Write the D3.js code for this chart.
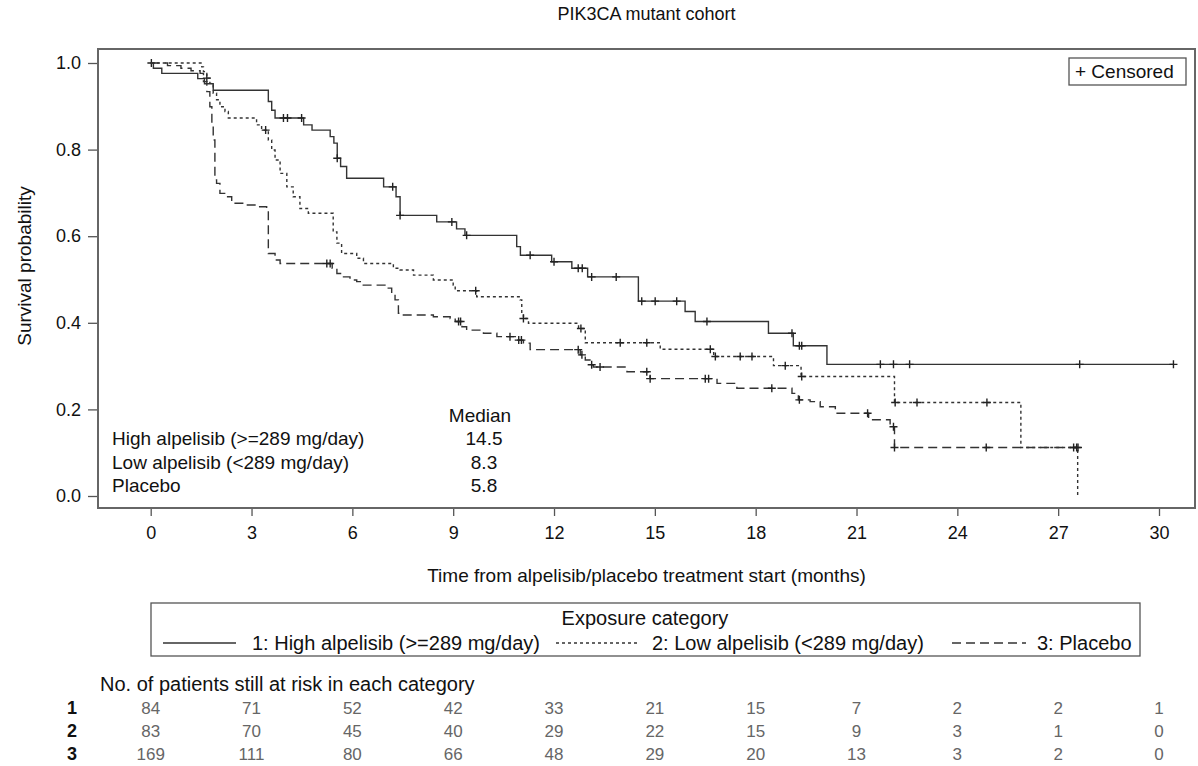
<!DOCTYPE html>
<html>
<head>
<meta charset="utf-8">
<script src="https://cdn.jsdelivr.net/npm/d3@7"></script>
<style>
  body { margin: 0; background: #fff; }
  svg text { font-family: "Liberation Sans", Arial, sans-serif; fill: #111; }
</style>
</head>
<body>
<div id="chart"></div>
<script>
// Kaplan-Meier steps (months, survival)
const highT = [0, 0.08, 0.33, 1.4, 1.6, 1.86, 3.5, 3.6, 3.7, 4.55, 4.8, 5.34, 5.45, 5.55, 5.65, 5.83, 6.93, 7.3, 7.42, 8.51, 9.1, 9.35, 10.89, 11.0, 11.93, 12.53, 13.0, 14.51, 15.9, 16.2, 18.38, 19.12, 20.12, 30.43];
const highS = [1.0, 0.988, 0.976, 0.964, 0.952, 0.937, 0.911, 0.891, 0.873, 0.857, 0.845, 0.83, 0.815, 0.78, 0.761, 0.734, 0.714, 0.691, 0.648, 0.633, 0.617, 0.602, 0.576, 0.556, 0.541, 0.526, 0.506, 0.45, 0.426, 0.403, 0.376, 0.347, 0.304, 0.304];
const highCens = [0.02, 3.95, 4.07, 4.49, 5.55, 7.2, 7.42, 8.96, 9.4, 11.29, 12.0, 12.72, 12.84, 13.12, 13.85, 14.61, 15.01, 15.65, 16.55, 19.08, 19.3, 19.37, 21.71, 22.1, 22.58, 27.64, 30.43];

const lowT = [0, 1.52, 1.57, 1.67, 1.76, 1.86, 1.96, 2.06, 2.21, 2.31, 3.15, 3.3, 3.5, 3.6, 3.7, 3.85, 4.05, 4.24, 4.44, 4.69, 5.43, 5.54, 5.68, 6.13, 6.33, 7.22, 7.42, 7.82, 8.41, 9.0, 9.06, 9.7, 10.99, 11.04, 11.09, 11.24, 12.73, 12.93, 15.16, 16.75, 18.53, 19.35, 22.13, 25.89, 27.58];
const lowS = [1.0, 0.991, 0.98, 0.965, 0.953, 0.93, 0.915, 0.899, 0.888, 0.873, 0.857, 0.845, 0.822, 0.799, 0.776, 0.745, 0.714, 0.691, 0.664, 0.653, 0.61, 0.584, 0.56, 0.549, 0.537, 0.526, 0.522, 0.51, 0.499, 0.487, 0.474, 0.46, 0.453, 0.422, 0.41, 0.399, 0.387, 0.354, 0.339, 0.322, 0.301, 0.276, 0.216, 0.112, 0];
const lowCens = [1.67, 3.42, 9.67, 11.09, 12.8, 13.97, 14.76, 16.65, 16.8, 17.54, 17.89, 18.88, 19.37, 22.15, 22.8, 24.88, 27.55];

const placT = [0, 0.5, 0.9, 1.2, 1.47, 1.57, 1.67, 1.76, 1.82, 1.86, 1.91, 1.96, 2.06, 2.26, 2.41, 2.85, 3.15, 3.45, 3.5, 3.7, 3.85, 5.4, 5.54, 5.68, 5.93, 6.13, 6.28, 6.97, 7.17, 7.27, 7.37, 7.42, 8.41, 8.91, 9.06, 9.26, 9.4, 9.9, 10.3, 10.94, 11.09, 11.29, 12.78, 12.93, 13.07, 13.17, 14.17, 14.86, 16.85, 17.44, 19.08, 19.27, 19.62, 19.92, 20.37, 21.36, 22.0, 22.13, 27.66];
const placS = [1.0, 0.994, 0.988, 0.982, 0.976, 0.957, 0.934, 0.899, 0.861, 0.822, 0.73, 0.722, 0.699, 0.691, 0.676, 0.672, 0.668, 0.66, 0.56, 0.545, 0.537, 0.526, 0.514, 0.506, 0.499, 0.495, 0.487, 0.48, 0.468, 0.453, 0.422, 0.418, 0.414, 0.41, 0.403, 0.391, 0.383, 0.376, 0.368, 0.36, 0.353, 0.338, 0.326, 0.314, 0.303, 0.298, 0.287, 0.271, 0.26, 0.249, 0.237, 0.222, 0.218, 0.206, 0.191, 0.176, 0.16, 0.112, 0.112];
const placCens = [5.24, 5.34, 9.16, 9.22, 10.69, 10.95, 11.03, 12.72, 12.83, 13.12, 13.37, 14.76, 14.86, 16.5, 16.6, 18.48, 19.3, 21.33, 22.1, 22.13, 24.86, 27.46, 27.59];

const xTicks = [0, 3, 6, 9, 12, 15, 18, 21, 24, 27, 30];
const yTicks = [0, 0.2, 0.4, 0.6, 0.8, 1.0];

const groupNames = ["1: High alpelisib (>=289 mg/day)", "2: Low alpelisib (<289 mg/day)", "3: Placebo"];
const medianLabels = ["High alpelisib (>=289 mg/day)", "Low alpelisib (<289 mg/day)", "Placebo"];
const medianValues = ["14.5", "8.3", "5.8"];

const riskRows = ["1", "2", "3"];
const risk1 = [84, 71, 52, 42, 33, 21, 15, 7, 2, 2, 1];
const risk2 = [83, 70, 45, 40, 29, 22, 15, 9, 3, 1, 0];
const risk3 = [169, 111, 80, 66, 48, 29, 20, 13, 3, 2, 0];

const width = 1198, height = 766;
const frame = { left: 98, right: 1195, top: 49, bottom: 508 };

const svg = d3.select("#chart").append("svg")
  .attr("width", width)
  .attr("height", height);

const x = d3.scaleLinear().domain([0, 30]).range([150.7, 1159]);
const y = d3.scaleLinear().domain([0, 1]).range([496, 63]);

// title
svg.append("text")
  .attr("x", (frame.left + frame.right) / 2)
  .attr("y", 20)
  .attr("text-anchor", "middle")
  .style("font-size", "18px")
  .text("PIK3CA mutant cohort");

// axes
const xAxis = svg.append("g")
  .attr("transform", `translate(0,${frame.bottom})`)
  .call(d3.axisBottom(x).tickValues(xTicks).tickSize(8).tickPadding(10));
const yAxis = svg.append("g")
  .attr("transform", `translate(${frame.left},0)`)
  .call(d3.axisLeft(y).tickValues(yTicks).tickFormat(d3.format(".1f")).tickSize(10).tickPadding(7));
[xAxis, yAxis].forEach((g) => {
  g.select(".domain").remove();
  g.selectAll("line").attr("stroke", "#555").attr("stroke-width", 1.3);
  g.selectAll("text").style("font-size", "18px").attr("fill", "#111");
});

// frame
svg.append("rect")
  .attr("x", frame.left)
  .attr("y", frame.top)
  .attr("width", frame.right - frame.left)
  .attr("height", frame.bottom - frame.top)
  .attr("fill", "none")
  .attr("stroke", "#666")
  .attr("stroke-width", 2);

svg.append("text")
  .attr("transform", `translate(24,266) rotate(-90)`)
  .attr("text-anchor", "middle")
  .attr("dy", "0.35em")
  .style("font-size", "19px")
  .text("Survival probability");

svg.append("text")
  .attr("x", (frame.left + frame.right) / 2)
  .attr("y", 582)
  .attr("text-anchor", "middle")
  .style("font-size", "19px")
  .text("Time from alpelisib/placebo treatment start (months)");

// curves
const curves = [
  { t: highT, s: highS, cens: highCens, dash: null },
  { t: lowT, s: lowS, cens: lowCens, dash: "3,3" },
  { t: placT, s: placS, cens: placCens, dash: "9,5" },
];

const line = d3.line()
  .x((d) => x(d[0]))
  .y((d) => y(d[1]))
  .curve(d3.curveStepAfter);

const plot = svg.append("g");

curves.forEach((c) => {
  const pts = c.t.map((t, i) => [t, c.s[i]]);
  plot.append("path")
    .datum(pts)
    .attr("d", line)
    .attr("fill", "none")
    .attr("stroke", "#333")
    .attr("stroke-width", 1.4)
    .attr("stroke-dasharray", c.dash);

  // censor marks sit on the step value at that time
  const bis = d3.bisector((d) => d).right;
  plot.selectAll(null)
    .data(c.cens)
    .enter()
    .append("path")
    .attr("transform", (t) => `translate(${x(t)},${y(c.s[Math.max(0, bis(c.t, t) - 1)])})`)
    .attr("d", "M-4,0H4M0,-4V4")
    .attr("stroke", "#222")
    .attr("stroke-width", 1.4);
});

// censored legend
svg.append("rect")
  .attr("x", 1069).attr("y", 58)
  .attr("width", 117).attr("height", 27)
  .attr("fill", "#fff")
  .attr("stroke", "#555")
  .attr("stroke-width", 1.3);
svg.append("text")
  .attr("x", 1075).attr("y", 78)
  .style("font-size", "19px")
  .text("+ Censored");

// median inset
svg.append("text")
  .attr("x", 480).attr("y", 422)
  .attr("text-anchor", "middle")
  .style("font-size", "19px")
  .text("Median");
medianLabels.forEach((lab, i) => {
  svg.append("text")
    .attr("x", 112).attr("y", 445 + i * 23.5)
    .style("font-size", "19px")
    .text(lab);
  svg.append("text")
    .attr("x", 484).attr("y", 445 + i * 23.5)
    .attr("text-anchor", "middle")
    .style("font-size", "19px")
    .text(medianValues[i]);
});

// group legend
const lg = svg.append("g");
lg.append("rect")
  .attr("x", 151).attr("y", 603)
  .attr("width", 989).attr("height", 53)
  .attr("fill", "none")
  .attr("stroke", "#555")
  .attr("stroke-width", 1.3);
lg.append("text")
  .attr("x", 645).attr("y", 625)
  .attr("text-anchor", "middle")
  .style("font-size", "20px")
  .text("Exposure category");
const legendItems = [
  { x1: 163, x2: 236, tx: 252, dash: null },
  { x1: 556, x2: 640, tx: 652, dash: "3,3" },
  { x1: 952, x2: 1026, tx: 1037, dash: "9,5" },
];
legendItems.forEach((d, i) => {
  lg.append("line")
    .attr("x1", d.x1).attr("x2", d.x2)
    .attr("y1", 643).attr("y2", 643)
    .attr("stroke", "#333")
    .attr("stroke-width", 1.3)
    .attr("stroke-dasharray", d.dash);
  lg.append("text")
    .attr("x", d.tx).attr("y", 650)
    .style("font-size", "20px")
    .text(groupNames[i]);
});

// risk table
svg.append("text")
  .attr("x", 100).attr("y", 691)
  .style("font-size", "20px")
  .text("No. of patients still at risk in each category");
[risk1, risk2, risk3].forEach((row, r) => {
  const yy = 714 + r * 23;
  svg.append("text")
    .attr("x", 72).attr("y", yy)
    .attr("text-anchor", "middle")
    .style("font-size", "18px")
    .style("font-weight", "bold")
    .text(riskRows[r]);
  svg.selectAll(null)
    .data(row)
    .enter()
    .append("text")
    .attr("x", (d, i) => x(xTicks[i]))
    .attr("y", yy)
    .attr("text-anchor", "middle")
    .style("font-size", "17px")
    .style("fill", "#666")
    .text((d) => d);
});
</script>
</body>
</html>
